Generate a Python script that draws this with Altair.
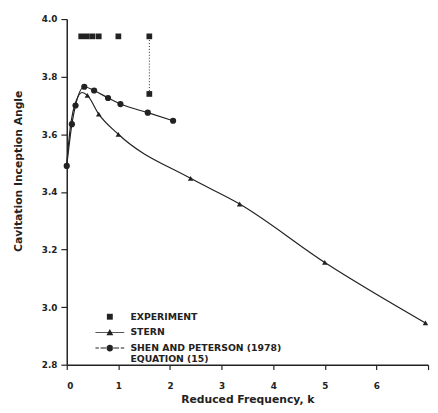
import altair as alt
import pandas as pd

# Experiment
exp_k = [0.28, 0.39, 0.50, 0.62, 1.0, 1.6, 1.6]
exp_v = [3.94, 3.94, 3.94, 3.94, 3.94, 3.94, 3.74]
exp_range_k = [1.6]
exp_range_lo = [3.74]
exp_range_hi = [3.94]

# Stern (line points, with triangle markers at a subset)
stern_k = [0.0, 0.08, 0.18, 0.30, 0.40, 0.62, 1.0, 2.4, 3.35, 5.0, 6.95]
stern_v = [3.50, 3.64, 3.715, 3.745, 3.735, 3.67, 3.60, 3.447, 3.358, 3.155, 2.945]
stern_mk_k = [0.40, 0.62, 1.0, 2.4, 3.35, 5.0, 6.95]
stern_mk_v = [3.735, 3.67, 3.60, 3.447, 3.358, 3.155, 2.945]

# Shen and Peterson (1978), Equation (15)
shen_k = [0.0, 0.10, 0.17, 0.34, 0.53, 0.80, 1.04, 1.57, 2.06]
shen_v = [3.49, 3.635, 3.70, 3.765, 3.752, 3.726, 3.705, 3.675, 3.647]

series_names = ["EXPERIMENT", "STERN", "SHEN AND PETERSON (1978)"]
x_ticks = [0, 1, 2, 3, 4, 5, 6, 7]
y_ticks = [2.8, 2.9, 3.0, 3.1, 3.2, 3.3, 3.4, 3.5, 3.6, 3.7, 3.8, 3.9, 4.0]

FONT = "DejaVu Sans"
INK = "#222222"

xs = alt.Scale(domain=[0, 7], nice=False, zero=False)
ys = alt.Scale(domain=[2.8, 4.0], nice=False, zero=False)

x_axis = alt.Axis(values=x_ticks, format="d",
                  labelExpr="datum.value == 7 ? '' : datum.label",
                  title="Reduced Frequency, k", grid=False, tickSize=5,
                  labelPadding=12, titlePadding=4)
y_axis = alt.Axis(values=y_ticks,
                  labelExpr="(round(datum.value*10) % 2 == 0) ? format(datum.value, '.1f') : ''",
                  title="Cavitation Inception Angle", grid=False, tickSize=6,
                  labelPadding=4, titleY=155, titleX=-44)

exp_df = pd.DataFrame({"k": exp_k, "v": exp_v})
exp_rng = pd.DataFrame({"k": exp_range_k, "lo": exp_range_lo, "hi": exp_range_hi})
stern_df = pd.DataFrame({"k": stern_k, "v": stern_v})
stern_mk = pd.DataFrame({"k": stern_mk_k, "v": stern_mk_v})
shen_df = pd.DataFrame({"k": shen_k, "v": shen_v})
leg_df = pd.DataFrame({"s": series_names, "k": [0.0] * 3, "v": [2.8] * 3})

x = alt.X("k:Q", scale=xs, axis=x_axis)
y = alt.Y("v:Q", scale=ys, axis=y_axis)

rng = alt.Chart(exp_rng).mark_rule(color=INK, strokeWidth=1, strokeDash=[1, 2]).encode(
    x=alt.X("k:Q", scale=xs), y=alt.Y("lo:Q", scale=ys), y2="hi:Q")
exp_pts = alt.Chart(exp_df).mark_point(shape="square", filled=True, size=34, color=INK, opacity=1).encode(x=x, y=y)

stern_line = alt.Chart(stern_df).mark_line(color=INK, strokeWidth=1.2, interpolate="monotone").encode(x=x, y=y)
stern_pts = alt.Chart(stern_mk).mark_point(shape="triangle-up", filled=True, size=32, color=INK, opacity=1).encode(x=x, y=y)

shen_line = alt.Chart(shen_df).mark_line(color=INK, strokeWidth=1.2, interpolate="monotone").encode(x=x, y=y)
shen_pts = alt.Chart(shen_df).mark_point(shape="circle", filled=True, size=40, color=INK, opacity=1).encode(x=x, y=y)

# legend symbols: 1 unit = 7 px (symbolSize 196 -> 14 px box), all parts filled
sq = "M-0.43,-0.43H0.43V0.43H-0.43Z"
tri = ("M-2.1,-0.07H2.1V0.07H-2.1Z"
       "M-0.5,0.4L0,-0.5L0.5,0.4Z")
circ = ("M-2.1,-0.07H-1.6V0.07H-2.1Z"
        "M-1.35,-0.07H-0.4V0.07H-1.35Z"
        "M0.4,-0.07H1.35V0.07H0.4Z"
        "M1.6,-0.07H2.1V0.07H1.6Z"
        "M-0.5,0A0.5,0.5 0 1,0 0.5,0A0.5,0.5 0 1,0 -0.5,0Z")

legend_layer = alt.Chart(leg_df).mark_point(opacity=0, filled=True, size=196, color=INK).encode(
    x=alt.X("k:Q", scale=xs), y=alt.Y("v:Q", scale=ys),
    shape=alt.Shape("s:N", sort=series_names,
                    scale=alt.Scale(domain=series_names, range=[sq, tri, circ]),
                    legend=alt.Legend(
                        title=None, orient="none", legendX=37, legendY=297,
                        symbolSize=196, symbolOpacity=1, symbolFillColor=INK,
                        symbolStrokeWidth=0,
                        labelFont=FONT, labelFontSize=9.5, labelFontWeight="bold",
                        labelColor=INK, labelOffset=14, rowPadding=4, padding=0,
                        labelLimit=300, labelBaseline="middle",
                        labelExpr="datum.label == 'SHEN AND PETERSON (1978)' ? ['SHEN AND PETERSON (1978)', 'EQUATION (15)'] : datum.label")))

chart = alt.layer(rng, exp_pts, stern_line, stern_pts, shen_line, shen_pts, legend_layer).properties(
    width=369, height=353,
    autosize=alt.AutoSizeParams(type="none"),
    padding={"left": 60, "top": 7, "right": 2, "bottom": 44},
    background="white",
).configure_view(stroke=None).configure_axis(
    domainColor=INK, domainWidth=1.5, tickColor=INK, tickWidth=1.2,
    labelFont=FONT, labelFontSize=9, labelFontWeight="bold", labelColor=INK,
    titleFont=FONT, titleFontSize=11, titleFontWeight="bold", titleColor=INK,
)

chart.save("out.html", embed_options={"renderer": "svg", "actions": False})
